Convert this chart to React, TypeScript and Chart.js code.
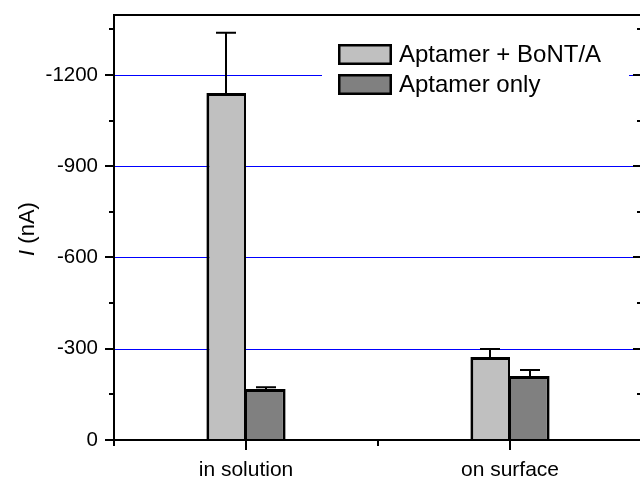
import React, { useEffect, useRef } from "react";
import { Chart, registerables } from "chart.js";

Chart.register(...registerables);

const categories = ["in solution", "on surface"];
const seriesLabels = ["Aptamer + BoNT/A", "Aptamer only"];
const withToxin = [-1140, -273];
const withToxinErr = [198, 26];
const aptamerOnly = [-168, -210];
const aptamerOnlyErr = [5, 20];
const yTicks = [0, -150, -300, -450, -600, -750, -900, -1050, -1200, -1350];
const yLabeled = [0, -300, -600, -900, -1200];
const yGridValues = [-300, -600, -900, -1200];
const yMin = -1400;
const yMax = 0;

const FONT = "'Liberation Sans', Arial, Helvetica, sans-serif";
const errs = [withToxinErr, aptamerOnlyErr];

const gridPlugin = {
  id: "blueGrid",
  beforeDatasetsDraw(chart: any) {
    const ctx = chart.ctx;
    const a = chart.chartArea;
    const y = chart.scales.y;
    ctx.save();
    ctx.strokeStyle = "#0000ff";
    ctx.lineWidth = 1;
    ctx.beginPath();
    yGridValues.forEach((v) => {
      const py = Math.round(y.getPixelForValue(v)) + 0.5;
      ctx.moveTo(a.left, py);
      ctx.lineTo(a.right, py);
    });
    ctx.stroke();
    ctx.restore();
  },
};

const errorBarPlugin = {
  id: "errorBars",
  afterDatasetsDraw(chart: any) {
    const ctx = chart.ctx;
    const y = chart.scales.y;
    ctx.save();
    ctx.strokeStyle = "#000";
    ctx.lineWidth = 2;
    chart.data.datasets.forEach((ds: any, i: number) => {
      const meta = chart.getDatasetMeta(i);
      meta.data.forEach((bar: any, j: number) => {
        const v = ds.data[j];
        const e = errs[i][j];
        const yTop = y.getPixelForValue(v - e);
        const yBar = bar.y;
        const x = Math.round(bar.x);
        ctx.beginPath();
        ctx.moveTo(x, yBar);
        ctx.lineTo(x, yTop);
        ctx.moveTo(x - 10, yTop);
        ctx.lineTo(x + 10, yTop);
        ctx.stroke();
      });
    });
    ctx.restore();
  },
};

const framePlugin = {
  id: "frame",
  afterDraw(chart: any) {
    const ctx = chart.ctx;
    const a = chart.chartArea;
    const y = chart.scales.y;
    const x = chart.scales.x;
    ctx.save();
    // legend
    ctx.fillStyle = "#fff";
    ctx.fillRect(322, 38, 307, 62);
    chart.data.datasets.forEach((ds: any, i: number) => {
      const by = 44 + i * 30;
      ctx.fillStyle = ds.backgroundColor;
      ctx.fillRect(338, by, 54, 21);
      ctx.strokeStyle = "#000";
      ctx.lineWidth = 2.5;
      ctx.strokeRect(339.25, by + 1.25, 51.5, 18.5);
      ctx.fillStyle = "#000";
      ctx.font = `24px ${FONT}`;
      ctx.textBaseline = "middle";
      ctx.textAlign = "left";
      ctx.fillText(ds.label, 399, by + 11);
    });

    ctx.strokeStyle = "#000";
    ctx.lineWidth = 2;
    ctx.beginPath();
    // frame
    ctx.moveTo(a.left, a.top + 1);
    ctx.lineTo(a.right, a.top + 1);
    ctx.moveTo(a.left, a.top);
    ctx.lineTo(a.left, a.bottom + 1);
    ctx.moveTo(a.left, a.bottom);
    ctx.lineTo(a.right, a.bottom);
    ctx.moveTo(a.right, a.top);
    ctx.lineTo(a.right, a.bottom);
    // y ticks
    yTicks.forEach((v) => {
      const py = Math.round(y.getPixelForValue(v));
      const major = yLabeled.includes(v);
      const len = major ? 9 : 5;
      ctx.moveTo(a.left - len, py);
      ctx.lineTo(a.left, py);
      ctx.moveTo(a.right - len, py);
      ctx.lineTo(a.right, py);
    });
    // x ticks
    categories.forEach((c, i) => {
      const px = Math.round(x.getPixelForValue(i));
      ctx.moveTo(px, a.bottom);
      ctx.lineTo(px, a.bottom + 10);
    });
    for (let i = 0; i <= categories.length; i++) {
      const px = Math.round(x.getPixelForValue(i - 0.5));
      ctx.moveTo(px, a.bottom);
      ctx.lineTo(px, a.bottom + 6);
    }
    ctx.stroke();

    // y title
    ctx.translate(28, (a.top + a.bottom) / 2 + 2);
    ctx.rotate(-Math.PI / 2);
    ctx.fillStyle = "#000";
    ctx.textBaseline = "middle";
    const f1 = `italic 22px ${FONT}`;
    const f2 = `22px ${FONT}`;
    ctx.font = f1;
    const w1 = ctx.measureText("I").width;
    ctx.font = f2;
    const w2 = ctx.measureText(" (nA)").width;
    const start = -(w1 + w2) / 2;
    ctx.textAlign = "left";
    ctx.font = f1;
    ctx.fillText("I", start, 0);
    ctx.font = f2;
    ctx.fillText(" (nA)", start + w1, 0);
    ctx.restore();
  },
};

export default function App() {
  const ref = useRef<HTMLCanvasElement | null>(null);
  useEffect(() => {
    document.body.style.margin = "0";
    const canvas = ref.current!;
    const chart = new Chart(canvas, {
      type: "bar",
      data: {
        labels: categories,
        datasets: [
          {
            label: seriesLabels[0],
            data: withToxin,
            backgroundColor: "#c0c0c0",
            borderColor: "#000",
            borderWidth: { top: 3, left: 3, right: 2, bottom: 0 },
            borderSkipped: false,
            categoryPercentage: 0.3,
            barPercentage: 1,
          },
          {
            label: seriesLabels[1],
            data: aptamerOnly,
            backgroundColor: "#808080",
            borderColor: "#000",
            borderWidth: { top: 3, left: 1, right: 3, bottom: 0 },
            borderSkipped: false,
            categoryPercentage: 0.3,
            barPercentage: 1,
          },
        ],
      },
      options: {
        animation: false,
        responsive: false,
        devicePixelRatio: 1,
        layout: { padding: { left: 0, right: 8, top: 14, bottom: 0 } },
        plugins: {
          legend: { display: false },
          tooltip: { enabled: false },
        },
        scales: {
          x: {
            grid: { display: false, drawTicks: false },
            border: { display: false },
            ticks: {
              color: "#000",
              font: { family: FONT, size: 21 },
              padding: 18,
              maxRotation: 0,
            },
            afterFit: (s: any) => {
              s.height = 39;
              s.paddingLeft = 0;
              s.paddingRight = 0;
            },
          },
          y: {
            reverse: true,
            min: yMin,
            max: yMax,
            afterBuildTicks: (s: any) => {
              s.ticks = yTicks.map((v) => ({ value: v }));
            },
            afterFit: (s: any) => {
              s.width = 114;
              s.paddingTop = 0;
              s.paddingBottom = 0;
            },
            grid: { display: false, drawTicks: false },
            border: { display: false },
            ticks: {
              color: "#000",
              font: { family: FONT, size: 20.5 },
              padding: 16,
              autoSkip: false,
              callback: (v: any) => (yLabeled.includes(Number(v)) ? String(v) : ""),
            },
          },
        },
      },
      plugins: [gridPlugin, errorBarPlugin, framePlugin],
    });
    return () => chart.destroy();
  }, []);
  return (
    <div style={{ position: "fixed", left: 0, top: 0, width: 640, height: 479, overflow: "hidden", background: "#fff" }}>
      <canvas ref={ref} width={650} height={479} style={{ width: 650, height: 479, display: "block" }} />
    </div>
  );
}
